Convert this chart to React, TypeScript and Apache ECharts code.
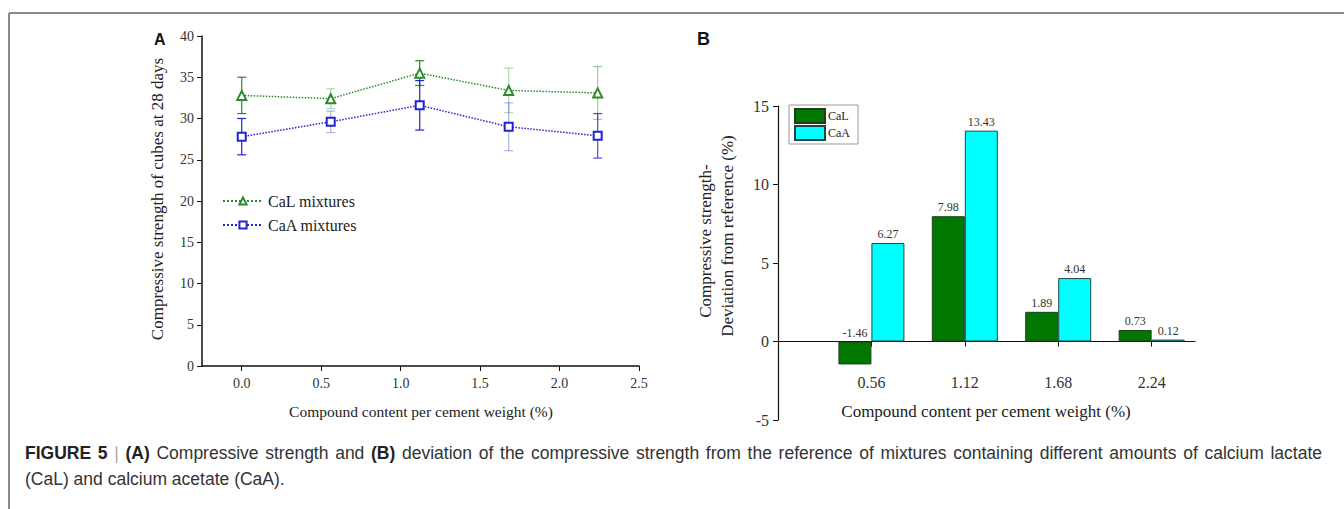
import React, { useEffect, useRef } from "react";
import * as echarts from "echarts";

// Panel A data
const contentA = [0, 0.56, 1.12, 1.68, 2.24];
const calMean = [32.8, 32.4, 35.5, 33.4, 33.1];
const calErr = [2.2, 1.2, 1.5, 2.7, 3.2];
const caaMean = [27.8, 29.6, 31.6, 29.0, 27.9];
const caaErr = [2.2, 1.3, 3.0, 2.9, 2.7];
const xTicksA = [0, 0.5, 1.0, 1.5, 2.0, 2.5];

// Panel B data
const contentB = [0.56, 1.12, 1.68, 2.24];
const calDev = [-1.46, 7.98, 1.89, 0.73];
const caaDev = [6.27, 13.43, 4.04, 0.12];

// Caption
const captionLine1: [string, string][] = [
  ["FIGURE", "b"], ["5", "b"], ["|", "s"], ["(A)", "b"], ["Compressive", "n"], ["strength", "n"], ["and", "n"],
  ["(B)", "b"], ["deviation", "n"], ["of", "n"], ["the", "n"], ["compressive", "n"], ["strength", "n"],
  ["from", "n"], ["the", "n"], ["reference", "n"], ["of", "n"], ["mixtures", "n"], ["containing", "n"],
  ["different", "n"], ["amounts", "n"], ["of", "n"], ["calcium", "n"], ["lactate", "n"],
];
const captionLine2 = "(CaL) and calcium acetate (CaA).";

const SERIF = "Liberation Serif";
const SANS = "Liberation Sans";
const CAP_SIZE = 17.5;

const calErrOpacity = [1, 0.35, 1, 0.35, 0.45];
const caaErrOpacity = [1, 0.35, 1, 0.35, 0.8];

function errSeries(name: string, means: number[], errs: number[], color: string, op: number[]) {
  return {
    type: "custom",
    name: name + "_err",
    xAxisIndex: 0,
    yAxisIndex: 0,
    z: 1,
    silent: true,
    data: contentA.map((x, i) => [x, means[i] - errs[i], means[i] + errs[i], i]),
    renderItem: (params: any, api: any) => {
      const x = api.value(0);
      const lo = api.coord([x, api.value(1)]);
      const hi = api.coord([x, api.value(2)]);
      const idx = api.value(3);
      const half = 4.5;
      const style = { stroke: color, lineWidth: 1.2, opacity: op[idx] };
      return {
        type: "group",
        children: [
          { type: "line", shape: { x1: lo[0], y1: lo[1], x2: hi[0], y2: hi[1] }, style },
          { type: "line", shape: { x1: hi[0] - half, y1: hi[1], x2: hi[0] + half, y2: hi[1] }, style },
          { type: "line", shape: { x1: lo[0] - half, y1: lo[1], x2: lo[0] + half, y2: lo[1] }, style },
        ],
      };
    },
  };
}

function captionGraphics() {
  const canvas = document.createElement("canvas");
  const ctx = canvas.getContext("2d")!;
  const fonts: Record<string, string> = {
    b: `bold ${CAP_SIZE}px "${SANS}"`,
    n: `${CAP_SIZE}px "${SANS}"`,
    s: `${CAP_SIZE}px "${SANS}"`,
  };
  const fills: Record<string, string> = { b: "#222", n: "#333", s: "#aaa" };
  const widths = captionLine1.map(([t, k]) => {
    ctx.font = fonts[k];
    return ctx.measureText(t).width;
  });
  const x0 = 25;
  const x1 = 1322;
  const total = widths.reduce((a, b) => a + b, 0);
  const gap = Math.max(4, (x1 - x0 - total) / (captionLine1.length - 1));
  let x = x0;
  const out: any[] = [];
  captionLine1.forEach(([t, k], i) => {
    out.push({
      type: "text",
      x,
      y: 453,
      style: { text: t, font: fonts[k], fill: fills[k], verticalAlign: "middle" },
    });
    x += widths[i] + gap;
  });
  out.push({
    type: "text",
    x: x0,
    y: 479,
    style: { text: captionLine2, font: `${CAP_SIZE}px "${SANS}"`, fill: "#333", verticalAlign: "middle" },
  });
  return out;
}

export default function App() {
  const ref = useRef<HTMLDivElement>(null);
  useEffect(() => {
    document.body.style.margin = "0";
    const chart = echarts.init(ref.current!, null, { renderer: "svg" });
    const green = "#2b8a2b";
    const blue = "#2323cf";
    const option: any = {
      animation: false,
      backgroundColor: "#ffffff",
      textStyle: { fontFamily: SERIF },
      grid: [
        { left: 202, top: 36, width: 437, height: 330 },
        { left: 778, top: 106, width: 417, height: 314 },
      ],
      legend: [
        {
          data: ["CaL mixtures", "CaA mixtures"],
          left: 217,
          top: 188,
          orient: "vertical",
          itemWidth: 40,
          itemHeight: 9,
          itemGap: 8,
          textStyle: { fontFamily: SERIF, fontSize: 16, color: "#222" },
        },
        {
          data: ["CaL", "CaA"],
          left: 789,
          top: 105,
          orient: "vertical",
          icon: "rect",
          itemWidth: 30,
          itemHeight: 14,
          itemGap: 1,
          padding: [3, 8, 3, 5],
          borderColor: "#999",
          borderWidth: 1,
          textStyle: { fontFamily: SERIF, fontSize: 12, color: "#222", padding: [0, 0, 0, -2] },
        },
      ],
      xAxis: [
        {
          type: "value",
          gridIndex: 0,
          min: -0.25,
          max: 2.5,
          splitLine: { show: false },
          axisLine: { onZero: false, lineStyle: { color: "#111", width: 1.5 } },
          axisTick: { customValues: xTicksA, length: 5, lineStyle: { color: "#111" } },
          axisLabel: {
            customValues: xTicksA,
            formatter: (v: number) => v.toFixed(1),
            fontFamily: SERIF,
            fontSize: 14,
            color: "#333",
            margin: 10,
          },
        },
        {
          type: "value",
          gridIndex: 1,
          min: 0,
          max: 2.5,
          splitLine: { show: false },
          axisLine: { onZero: true, lineStyle: { color: "#111", width: 1.2 } },
          axisTick: { customValues: contentB, length: 5, lineStyle: { color: "#111" } },
          axisLabel: {
            customValues: contentB,
            formatter: (v: number) => v.toFixed(2),
            fontFamily: SERIF,
            fontSize: 16,
            color: "#333",
            margin: -46,
          },
        },
      ],
      yAxis: [
        {
          type: "value",
          gridIndex: 0,
          min: 0,
          max: 40,
          interval: 5,
          splitLine: { show: false },
          axisLine: { show: true, onZero: false, lineStyle: { color: "#111", width: 1.5 } },
          axisTick: { show: true, length: 5, lineStyle: { color: "#111" } },
          axisLabel: { fontFamily: SERIF, fontSize: 14, color: "#333", margin: 8 },
        },
        {
          type: "value",
          gridIndex: 1,
          min: -5,
          max: 15,
          interval: 5,
          splitLine: { show: false },
          axisLine: { show: true, onZero: false, lineStyle: { color: "#111", width: 1.2 } },
          axisTick: { show: true, length: 5, lineStyle: { color: "#111" } },
          axisLabel: { fontFamily: SERIF, fontSize: 16, color: "#333", margin: 9 },
        },
      ],
      series: [
        errSeries("CaL mixtures", calMean, calErr, green, calErrOpacity),
        errSeries("CaA mixtures", caaMean, caaErr, blue, caaErrOpacity),
        {
          type: "line",
          name: "CaL mixtures",
          xAxisIndex: 0,
          yAxisIndex: 0,
          z: 3,
          data: contentA.map((x, i) => [x, calMean[i]]),
          symbol: "emptyTriangle",
          symbolSize: 9,
          lineStyle: { type: "dotted", width: 1.5, color: green },
          itemStyle: { color: green, borderColor: green, borderWidth: 2 },
        },
        {
          type: "line",
          name: "CaA mixtures",
          xAxisIndex: 0,
          yAxisIndex: 0,
          z: 3,
          data: contentA.map((x, i) => [x, caaMean[i]]),
          symbol: "emptyRect",
          symbolSize: 8,
          lineStyle: { type: "dotted", width: 1.5, color: blue },
          itemStyle: { color: blue, borderColor: blue, borderWidth: 2 },
        },
        {
          type: "bar",
          name: "CaL",
          xAxisIndex: 1,
          yAxisIndex: 1,
          barWidth: 33,
          barGap: "0%",
          data: contentB.map((x, i) => [x, calDev[i]]),
          itemStyle: { color: "#007800", borderColor: "#1d3d1d", borderWidth: 1 },
          label: {
            show: true,
            position: "top",
            distance: 3,
            fontFamily: SERIF,
            fontSize: 12,
            color: "#333",
            formatter: (p: any) => p.value[1].toFixed(2),
          },
        },
        {
          type: "bar",
          name: "CaA",
          xAxisIndex: 1,
          yAxisIndex: 1,
          barWidth: 33,
          barGap: "0%",
          data: contentB.map((x, i) => [x, caaDev[i]]),
          itemStyle: { color: "#00ffff", borderColor: "#1d4545", borderWidth: 1 },
          label: {
            show: true,
            position: "top",
            distance: 3,
            fontFamily: SERIF,
            fontSize: 12,
            color: "#333",
            formatter: (p: any) => p.value[1].toFixed(2),
          },
        },
      ],
      graphic: [
        { type: "line", shape: { x1: 9, y1: 13, x2: 1344, y2: 13 }, style: { stroke: "#8a8a8a", lineWidth: 2 } },
        { type: "line", shape: { x1: 9, y1: 13, x2: 9, y2: 509 }, style: { stroke: "#8a8a8a", lineWidth: 2 } },
        {
          type: "text",
          x: 154,
          y: 39,
          style: { text: "A", font: `bold 16px ${SANS}`, fill: "#111", verticalAlign: "middle" },
        },
        {
          type: "text",
          x: 697,
          y: 39,
          style: { text: "B", font: `bold 18px ${SANS}`, fill: "#111", verticalAlign: "middle" },
        },
        {
          type: "text",
          x: 157,
          y: 199,
          rotation: Math.PI / 2,
          style: {
            text: "Compressive strength of cubes at 28 days",
            font: `17px ${SERIF}`,
            fill: "#222",
            align: "center",
            verticalAlign: "middle",
          },
        },
        {
          type: "text",
          x: 421,
          y: 411,
          style: {
            text: "Compound content per cement weight (%)",
            font: `15.5px ${SERIF}`,
            fill: "#222",
            align: "center",
            verticalAlign: "middle",
          },
        },
        {
          type: "text",
          x: 705,
          y: 241,
          rotation: Math.PI / 2,
          style: {
            text: "Compressive strength-",
            font: `17px ${SERIF}`,
            fill: "#222",
            align: "center",
            verticalAlign: "middle",
          },
        },
        {
          type: "text",
          x: 727,
          y: 236,
          rotation: Math.PI / 2,
          style: {
            text: "Deviation from reference (%)",
            font: `17px ${SERIF}`,
            fill: "#222",
            align: "center",
            verticalAlign: "middle",
          },
        },
        {
          type: "text",
          x: 986,
          y: 411,
          style: {
            text: "Compound content per cement weight (%)",
            font: `17px ${SERIF}`,
            fill: "#222",
            align: "center",
            verticalAlign: "middle",
          },
        },
        ...captionGraphics(),
      ],
    };
    chart.setOption(option);
    return () => chart.dispose();
  }, []);
  return (
    <div
      ref={ref}
      style={{ position: "fixed", left: 0, top: 0, width: 1344, height: 509 }}
    />
  );
}
